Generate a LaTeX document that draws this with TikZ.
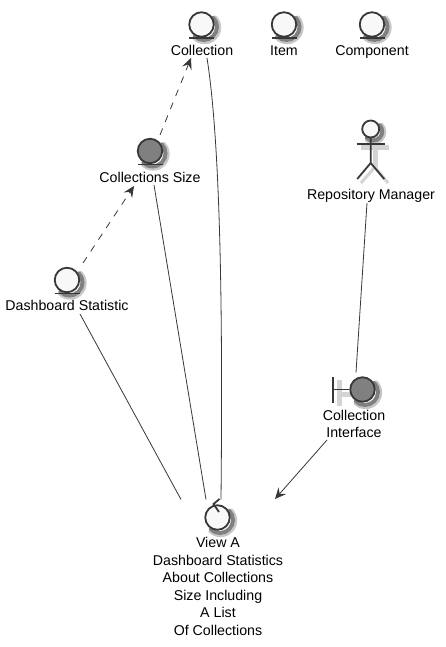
\documentclass[tikz,border=0pt]{standalone}
\usepackage{fontspec}
\setmainfont{Liberation Sans}
\usetikzlibrary{calc,arrows.meta}
\definecolor{inkc}{HTML}{383838}
\definecolor{lightc}{HTML}{F8F8F8}
\definecolor{darkc}{HTML}{808080}
\tikzset{
  orb/.style={circle,draw=inkc,line width=1.8pt,minimum size=24.5pt,inner sep=0pt},
  lightorb/.style={orb,fill=lightc},
  darkorb/.style={orb,fill=darkc},
  lab/.style={inner sep=0pt,align=center,text=black,font=\fontsize{14.2}{17.6}\selectfont},
  bar/.style={draw=inkc,line width=1.8pt},
  ghost/.style={draw=black!17,line width=5pt},
  crescent/.style={draw=black!50,line width=4pt,line cap=round},
  crescentout/.style={draw=black!22,line width=2.5pt,line cap=round},
  conn/.style={draw=inkc,line width=.8pt},
  dconn/.style={conn,dash pattern=on 7pt off 7pt},
  tip/.style={-{Stealth[length=11pt,width=10pt,inset=4pt,fill=inkc]}}
}
% shadow crescent below and to the right of a coordinate: #1 coordinate name, #2 radius
\newcommand{\orbcrescent}[2]{%
  \draw[crescentout] ($(#1)+(3,3)$) ++(-45:#2+2.4) arc (-45:135:#2+2.4);
  \draw[crescent] ($(#1)+(2.5,2.5)$) ++(-45:#2) arc (-45:135:#2);
}
\begin{document}
\begin{tikzpicture}[x=1pt,y=-1pt]
\path[fill=white,use as bounding box] (0,0) rectangle (445,647);

% entities
\coordinate (collC) at (201.5,24.5);
\orbcrescent{collC}{13}
\node[lightorb] (coll) at (collC) {};
\draw[bar] ($(coll)+(-12.5,13.5)$) -- ($(coll)+(12.5,13.5)$);
\node[lab] (collL) at (202,50.5) {Collection};

\coordinate (itemC) at (284,24.5);
\orbcrescent{itemC}{13}
\node[lightorb] (item) at (itemC) {};
\draw[bar] ($(item)+(-12.5,13.5)$) -- ($(item)+(12.5,13.5)$);
\node[lab] (itemL) at (284,50.5) {Item};

\coordinate (compC) at (372,24.5);
\orbcrescent{compC}{13}
\node[lightorb] (comp) at (compC) {};
\draw[bar] ($(comp)+(-12.5,13.5)$) -- ($(comp)+(12.5,13.5)$);
\node[lab] (compL) at (372,52) {Component};

\coordinate (sizeC) at (150,151);
\orbcrescent{sizeC}{13}
\node[darkorb] (size) at (sizeC) {};
\draw[bar] ($(size)+(-12.5,13.5)$) -- ($(size)+(12.5,13.5)$);
\node[lab] (sizeL) at (150,177.5) {Collections Size};

\coordinate (dashC) at (67,280);
\orbcrescent{dashC}{13}
\node[lightorb] (dash) at (dashC) {};
\draw[bar] ($(dash)+(-12.5,13.5)$) -- ($(dash)+(12.5,13.5)$);
\node[lab] (dashL) at (67,305.5) {Dashboard Statistic};

% actor
\draw[ghost] (361,148) -- (389,148);
\draw[ghost] (375,133) -- (375,167);
\draw[ghost,line width=3pt] (375,167) -- (361,183);
\draw[ghost,line width=3pt] (375,167) -- (388,183);
\coordinate (headC) at (370.7,129);
\orbcrescent{headC}{9}
\node[lightorb,minimum size=17pt] (head) at (headC) {};
\draw[bar] ($(head)+(0,8.5)$) -- ($(head)+(0,34)$) -- ($(head)+(-13.5,50)$);
\draw[bar] ($(head)+(0,34)$) -- ($(head)+(13.5,50)$);
\draw[bar] ($(head)+(-14,15)$) -- ($(head)+(14,15)$);
\node[lab] (actorL) at (371,195.5) {Repository Manager};

% boundary
\draw[ghost] (339,380) -- (339,406);
\draw[ghost] (339,394) -- (354,394);
\coordinate (boundC) at (362.5,389.5);
\orbcrescent{boundC}{13}
\node[darkorb] (bound) at (boundC) {};
\draw[bar] ($(bound)+(-29.5,-13)$) -- ($(bound)+(-29.5,13)$);
\draw[bar] ($(bound)+(-29.5,0)$) -- (bound.west);
\node[lab] (boundL) at (354,424) {Collection\\Interface};

% control
\coordinate (viewC) at (217.5,517.5);
\orbcrescent{viewC}{13}
\node[lightorb] (view) at (viewC) {};
\draw[bar] ($(view)+(1.5,-5.5)$) -- ($(view)+(-4,-13.5)$) -- ($(view)+(2,-18.5)$);
\node[lab] (viewL) at (218,586.5) {View A\\Dashboard Statistics\\About Collections\\Size Including\\A List\\Of Collections};

% connectors
\draw[conn,dconn,tip] ($(size)+(10,-16)$) -- ($(collL)+(-11,7.5)$);
\draw[conn,dconn,tip] ($(dash)+(16,-17)$) -- ($(sizeL)+(-16,8.5)$);
\draw[conn] ($(collL)+(5,7.5)$) .. controls ($(collL)+(18,90)$) and ($(collL)+(21,250)$) .. ($(view)+(3.5,-18)$);
\draw[conn] ($(sizeL)+(4,7.5)$) -- ($(view)+(-11.5,-18)$);
\draw[conn] ($(dashL)+(13,8.5)$) -- ($(view)+(-36.5,-18)$);
\draw[conn] ($(actorL)+(-4,7.5)$) -- ($(bound)+(-6.5,-17)$);
\draw[conn,tip] ($(boundL)+(-27,16)$) -- ($(view)+(57.5,-18.5)$);
\end{tikzpicture}
\end{document}
